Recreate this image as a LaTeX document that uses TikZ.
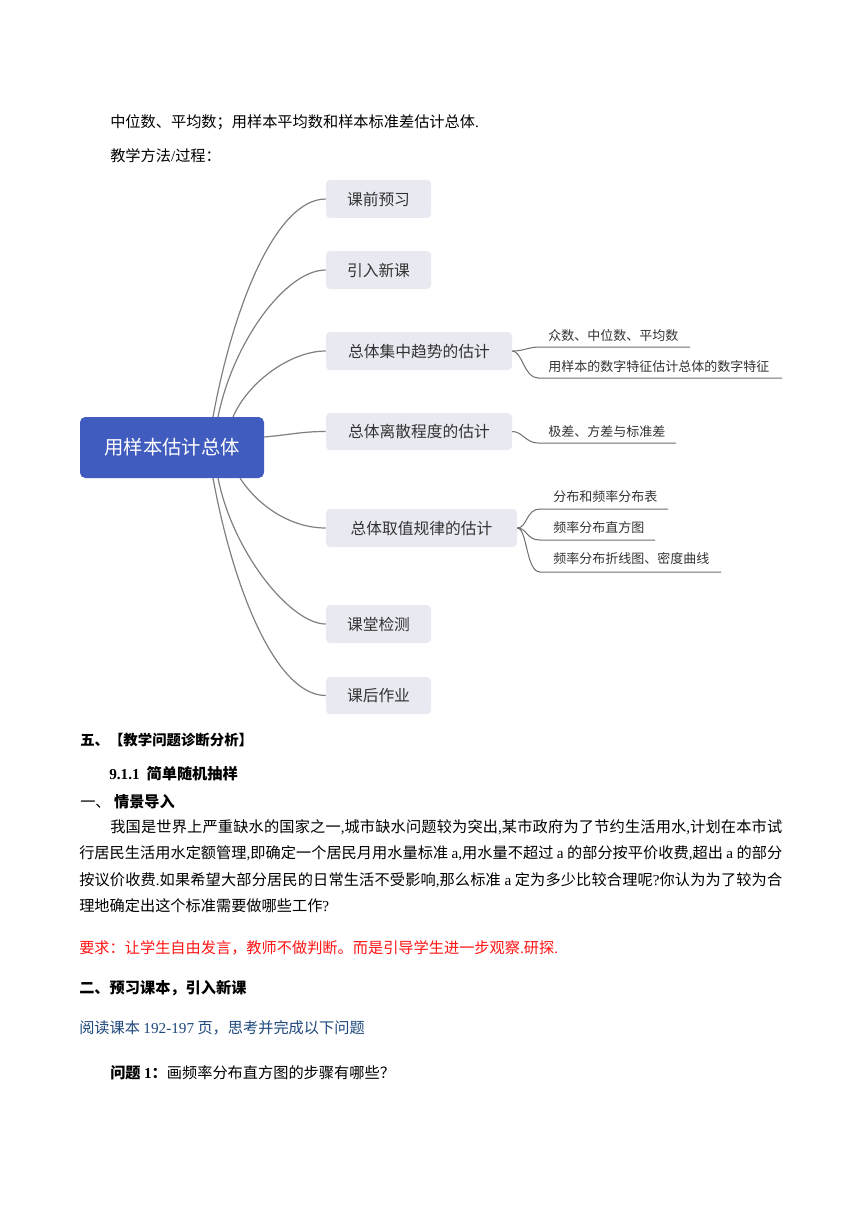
\documentclass[tikz,border=0pt]{standalone}
\usepackage{fontspec}
\setmainfont{Noto Sans CJK SC}
\newfontfamily\lat{Liberation Serif}
\usetikzlibrary{calc}
\XeTeXlinebreaklocale "zh"
\XeTeXlinebreakskip=0pt plus 1pt minus 0.3pt
\definecolor{rootblue}{RGB}{64,92,190}
\definecolor{boxgray}{RGB}{233,234,241}
\definecolor{txt}{RGB}{51,51,51}
\definecolor{linegray}{RGB}{128,128,128}
\definecolor{subgray}{RGB}{110,110,110}
\definecolor{darkblue}{RGB}{31,73,125}
\definecolor{redtxt}{RGB}{255,20,20}
\tikzset{
  rootbox/.style={fill=rootblue, rounded corners=4pt, text=white, inner sep=0pt,
    font=\fontsize{14.5}{17}\selectfont, minimum width=138pt, minimum height=45.75pt},
  branch/.style={fill=boxgray, rounded corners=3pt, text=txt, inner sep=0pt,
    font=\fontsize{11.8}{14}\selectfont, minimum height=28.5pt},
  shortbranch/.style={branch, minimum width=78.75pt},
  longbranch/.style={branch, minimum width=139.5pt},
  conn/.style={draw=linegray, line width=0.9pt},
  subline/.style={draw=subgray, line width=0.75pt},
  subtext/.style={anchor=west, inner sep=0pt, text=txt, font=\fontsize{9.75}{12}\selectfont},
  body/.style={anchor=west, inner sep=0pt, text=black, font=\fontsize{11.4}{14}\selectfont},
  boldbody/.style={body, font=\fontsize{11.4}{14}\selectfont\bfseries},
}
\begin{document}
\begin{tikzpicture}[x=0.75pt,y=-0.75pt]
\useasboundingbox (0,0) rectangle (860,1216);
\fill[white] (0,0) rectangle (860,1216);

% top text
\node[body] (t1) at (110,122) {中位数、平均数；用样本平均数和样本标准差估计总体{\lat .}};
\node[body] (t2) at (110,156) {教学方法{\lat /}过程：};

% mind map
\node[rootbox] (root) at (172,447.5) {用样本估计总体};
\node[shortbranch] (b1) at (378.5,199) {课前预习};
\node[shortbranch] (b2) at (378.5,270) {引入新课};
\node[longbranch] (b3) at (419,351) {总体集中趋势的估计};
\node[longbranch, minimum height=27.75pt] (b4) at (419,431.5) {总体离散程度的估计};
\node[branch, minimum width=143.25pt] (b5) at (421.5,528) {总体取值规律的估计};
\node[shortbranch] (b6) at (378.5,624) {课堂检测};
\node[shortbranch, minimum height=27.75pt] (b7) at (378.5,695.5) {课后作业};

\coordinate (r1) at (213,417);
\coordinate (r2) at (218,417);
\coordinate (r3) at (233,417);
\coordinate (r4) at (264,437);
\coordinate (r5) at (240,478);
\coordinate (r6) at (218,478);
\coordinate (r7) at (213,478);

\draw[conn] (r1) .. controls +(20,-110) and +(-50,0) .. (b1.west);
\draw[conn] (r2) .. controls +(15,-75) and +(-40,0) .. (b2.west);
\draw[conn] (r3) .. controls +(15,-35) and +(-35,0) .. (b3.west);
\draw[conn] (r4) .. controls +(25,-2) and +(-25,0) .. (b4.west);
\draw[conn] (r5) .. controls +(18,28) and +(-35,0) .. (b5.west);
\draw[conn] (r6) .. controls +(15,75) and +(-35,0) .. (b6.west);
\draw[conn] (r7) .. controls +(20,110) and +(-50,0) .. (b7.west);

% sub branches of b3
\coordinate (s1a) at (540,347); \coordinate (s1b) at (690,347);
\coordinate (s2a) at (538,378); \coordinate (s2b) at (782,378);
\draw[subline] (b3.east) .. controls +(12,0) and +(-12,0) .. (s1a) -- (s1b);
\draw[subline] (b3.east) .. controls +(10,0) and +(-14,0) .. (s2a) -- (s2b);
\node[subtext] (s1) at (548,336) {众数、中位数、平均数};
\node[subtext] (s2) at (548,367) {用样本的数字特征估计总体的数字特征};

% sub branch of b4
\coordinate (s3a) at (538,443); \coordinate (s3b) at (676,443);
\draw[subline] (b4.east) .. controls +(10,0) and +(-12,0) .. (s3a) -- (s3b);
\node[subtext] (s3) at (548,432) {极差、方差与标准差};

% sub branches of b5
\coordinate (u1a) at (540,509); \coordinate (u1b) at (668,509);
\coordinate (u2a) at (540,540); \coordinate (u2b) at (655,540);
\coordinate (u3a) at (540,572); \coordinate (u3b) at (721,572);
\draw[subline] (b5.east) .. controls +(10,0) and +(-14,0) .. (u1a) -- (u1b);
\draw[subline] (b5.east) .. controls +(10,0) and +(-14,0) .. (u2a) -- (u2b);
\draw[subline] (b5.east) .. controls +(10,0) and +(-14,0) .. (u3a) -- (u3b);
\node[subtext] (u1) at (553,497) {分布和频率分布表};
\node[subtext] (u2) at (553,528) {频率分布直方图};
\node[subtext] (u3) at (553,559) {频率分布折线图、密度曲线};

% lower text
\node[body, font=\fontsize{10.8}{13}\selectfont\bfseries] (h5) at (80,740) {五、【教学问题诊断分析】};
\node[boldbody] (h91) at (109,774) {{\lat 9.1.1}\ \ 简单随机抽样};
\node[body] (h1) at (80,802) {一、\ {\bfseries 情景导入}};
\node[body] (p1) at (110,827) {\parbox{504pt}{\parfillskip=0pt\relax 我国是世界上严重缺水的国家之一{\lat ,}城市缺水问题较为突出{\lat ,}某市政府为了节约生活用水{\lat ,}计划在本市试}};
\node[body] (p2) at (79,853) {\parbox{527.25pt}{\parfillskip=0pt\relax 行居民生活用水定额管理{\lat ,}即确定一个居民月用水量标准 {\lat a,}用水量不超过 {\lat a} 的部分按平价收费{\lat ,}超出 {\lat a} 的部分}};
\node[body] (p3) at (79,880) {\parbox{527.25pt}{\parfillskip=0pt\relax 按议价收费{\lat .}如果希望大部分居民的日常生活不受影响{\lat ,}那么标准 {\lat a} 定为多少比较合理呢{\lat ?}你认为为了较为合}};
\node[body] (p4) at (79,906) {理地确定出这个标准需要做哪些工作{\lat ?}};
\node[body, text=redtxt] (req) at (79,948) {要求：让学生自由发言，教师不做判断。而是引导学生进一步观察{\lat .}研探{\lat .}};
\node[boldbody] (h2) at (79,988) {二、预习课本，引入新课};
\node[body, text=darkblue] (read) at (79,1028) {阅读课本 {\lat 192-197} 页，思考并完成以下问题};
\node[body] (q1) at (110,1073) {{\bfseries 问题 {\lat 1}：}画频率分布直方图的步骤有哪些？};
\end{tikzpicture}
\end{document}
